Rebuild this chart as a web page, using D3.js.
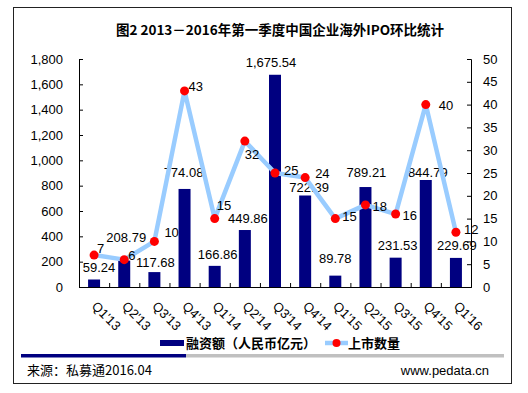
<!DOCTYPE html>
<html>
<head>
<meta charset="utf-8">
<script src="https://cdn.jsdelivr.net/npm/d3@7"></script>
<style>
  body { margin: 0; background: #fff; }
  text { font-family: "Liberation Sans", Arial, "Noto Sans CJK SC", sans-serif; }
  .cjk { font-family: "Noto Sans CJK SC", "Liberation Sans", sans-serif; }
</style>
</head>
<body>
<div id="chart"></div>
<script>
// ── Data ────────────────────────────────────────────────────────
const QUARTERS = ["Q1'13", "Q2'13", "Q3'13", "Q4'13", "Q1'14", "Q2'14", "Q3'14",
                  "Q4'14", "Q1'15", "Q2'15", "Q3'15", "Q4'15", "Q1'16"];
const AMOUNT = [59.24, 208.79, 117.68, 774.08, 166.86, 449.86, 1675.54,
                722.39, 89.78, 789.21, 231.53, 844.79, 229.69];   // 融资额（人民币亿元）
const COUNT = [7, 6, 10, 43, 15, 32, 25, 24, 15, 18, 16, 40, 12];  // 上市数量
const LEFT_TICKS = d3.range(0, 1801, 200);
const RIGHT_TICKS = d3.range(0, 51, 5);

const TITLE = "图2 2013－2016年第一季度中国企业海外IPO环比统计";
const LEGEND = ["融资额（人民币亿元）", "上市数量"];
const SOURCE = "来源：私募通2016.04";
const SITE = "www.pedata.cn";

// ── Layout / style ──────────────────────────────────────────────
const W = 528, H = 393;
const M = { left: 79, right: 471, top: 59, bottom: 287 };
const C = { bar: "#000080", line: "#99ccff", dot: "#ff0000", ink: "#000", gray: "#c0c0c0" };

// manual label nudges (as placed in the original chart)
const BAR_LABEL_DY = [-7, -19, -5, -12, -7, -7, -8, -3, -13, -10, -8, -3, -8];
const BAR_LABEL_DX = [5, 2, 1, -1, 3, 3, -4, 4, 0, 1, 2, 2, 1];
const COUNT_LABEL_OFF = [[3, -2], [4, 0], [10, -4], [4, 0], [2, -9], [0, 18], [9, 2],
                         [10, 0], [7, 2], [7, 6], [7, 6], [13, 5], [8, 2]];

const fmt = d3.format(",.2f");

const svg = d3.select("#chart").append("svg")
  .attr("width", W).attr("height", H)
  .attr("viewBox", `0 0 ${W} ${H}`);

svg.append("rect").attr("width", W).attr("height", H).attr("fill", "#fff");
svg.append("rect")
  .attr("x", 13.5).attr("y", 7.5).attr("width", 498).attr("height", 376)
  .attr("fill", "none").attr("stroke", "#222").attr("stroke-width", 1);

// ── Title ───────────────────────────────────────────────────────
svg.append("text").attr("class", "cjk")
  .attr("x", 280).attr("y", 35)
  .attr("text-anchor", "middle")
  .attr("font-size", 13.5).attr("font-weight", "bold")
  .text(TITLE);

// ── Scales ──────────────────────────────────────────────────────
const xb = d3.scaleBand().domain(QUARTERS).range([M.left, M.right]);
const yL = d3.scaleLinear().domain([0, 1800]).range([M.bottom, M.top]);
const yR = d3.scaleLinear().domain([0, 50]).range([M.bottom, M.top]);
const cx = q => xb(q) + xb.bandwidth() / 2;

// ── Axes ────────────────────────────────────────────────────────
const axL = svg.append("g").attr("transform", `translate(${M.left},0)`)
  .call(d3.axisRight(yL).tickValues(LEFT_TICKS).tickSize(4).tickFormat(d3.format(",")));
axL.selectAll("text").attr("x", -16).attr("text-anchor", "end");

const axR = svg.append("g").attr("transform", `translate(${M.right},0)`)
  .call(d3.axisLeft(yR).tickValues(RIGHT_TICKS).tickSize(4));
axR.selectAll("text").attr("x", 12).attr("text-anchor", "start");

[axL, axR].forEach(g => {
  g.select(".domain").attr("stroke", C.ink);
  g.selectAll(".tick line").attr("stroke", C.ink);
  g.selectAll("text").attr("font-size", 13).attr("fill", C.ink)
    .attr("font-family", "Liberation Sans, Arial, sans-serif");
});

// bars
svg.append("g").selectAll("rect").data(QUARTERS).join("rect")
  .attr("x", q => cx(q) - 6)
  .attr("width", 12)
  .attr("y", (q, i) => yL(AMOUNT[i]))
  .attr("height", (q, i) => yL(0) - yL(AMOUNT[i]))
  .attr("fill", C.bar);

// x axis baseline + inside ticks at band edges
const axX = svg.append("g").attr("transform", `translate(0,${M.bottom})`)
  .call(d3.axisTop(d3.scaleLinear().domain([0, QUARTERS.length]).range([M.left, M.right]))
    .ticks(QUARTERS.length).tickSize(4).tickFormat(""));
axX.select(".domain").attr("stroke", C.ink);
axX.selectAll(".tick line").attr("stroke", C.ink);

// category labels, rotated
svg.append("g").selectAll("text").data(QUARTERS).join("text")
  .attr("transform", q => `translate(${cx(q) - 3},${M.bottom + 20}) rotate(45)`)
  .attr("font-size", 13).attr("fill", C.ink)
  .text(q => q);

// bar labels
svg.append("g").selectAll("text").data(QUARTERS).join("text")
  .attr("x", (q, i) => cx(q) + BAR_LABEL_DX[i])
  .attr("y", (q, i) => yL(AMOUNT[i]) + BAR_LABEL_DY[i])
  .attr("text-anchor", "middle")
  .attr("font-size", 13).attr("fill", C.ink)
  .text((q, i) => fmt(AMOUNT[i]));

// count line
const line = d3.line().x(d => cx(d.q)).y(d => yR(d.v));
const pts = QUARTERS.map((q, i) => ({ q, v: COUNT[i] }));
svg.append("path").datum(pts)
  .attr("d", line)
  .attr("fill", "none").attr("stroke", C.line).attr("stroke-width", 4.5)
  .attr("stroke-linejoin", "round");

svg.append("g").selectAll("circle").data(pts).join("circle")
  .attr("cx", d => cx(d.q)).attr("cy", d => yR(d.v)).attr("r", 4.5)
  .attr("fill", C.dot);

svg.append("g").selectAll("text").data(pts).join("text")
  .attr("x", (d, i) => cx(d.q) + COUNT_LABEL_OFF[i][0])
  .attr("y", (d, i) => yR(d.v) + COUNT_LABEL_OFF[i][1])
  .attr("font-size", 13).attr("fill", C.ink)
  .text(d => d.v);

// ── Legend ──────────────────────────────────────────────────────
const lg = svg.append("g");
lg.append("rect").attr("x", 160).attr("y", 340).attr("width", 24).attr("height", 6).attr("fill", C.bar);
lg.append("text").attr("class", "cjk").attr("x", 186).attr("y", 348)
  .attr("font-size", 13).attr("font-weight", "bold").text(LEGEND[0]);
lg.append("line").attr("x1", 325).attr("x2", 348).attr("y1", 343).attr("y2", 343)
  .attr("stroke", C.line).attr("stroke-width", 4.5);
lg.append("circle").attr("cx", 336.5).attr("cy", 343).attr("r", 4).attr("fill", C.dot);
lg.append("text").attr("class", "cjk").attr("x", 348).attr("y", 348)
  .attr("font-size", 13).attr("font-weight", "bold").text(LEGEND[1]);

// ── Footer ──────────────────────────────────────────────────────
svg.append("rect").attr("x", 21).attr("y", 354).attr("width", 165).attr("height", 3.5).attr("fill", C.bar);
svg.append("rect").attr("x", 186).attr("y", 354).attr("width", 318).attr("height", 3.5).attr("fill", C.gray);
svg.append("text").attr("class", "cjk").attr("x", 27).attr("y", 375)
  .attr("font-size", 13).attr("fill", C.ink).text(SOURCE);
svg.append("text").attr("x", 489).attr("y", 375).attr("text-anchor", "end")
  .attr("font-size", 13).attr("fill", C.ink).text(SITE);
</script>
</body>
</html>
